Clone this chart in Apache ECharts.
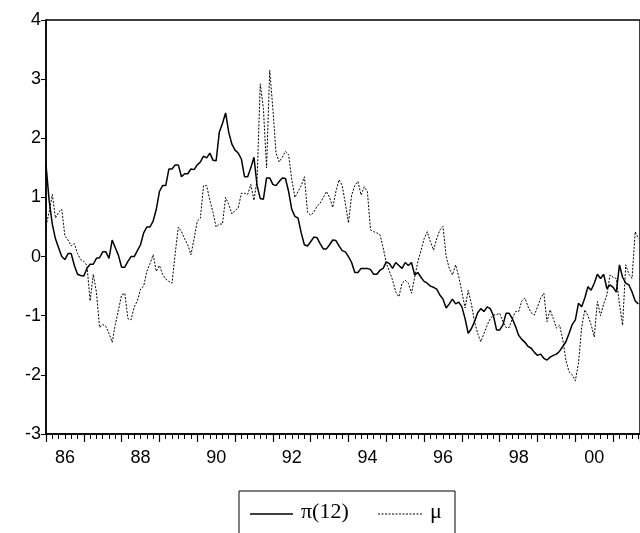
<!DOCTYPE html>
<html><head><meta charset="utf-8">
<script src="https://cdn.jsdelivr.net/npm/echarts@6/dist/echarts.min.js"></script>
<style>html,body{margin:0;padding:0;background:#fff}#c{width:640px;height:533px}</style>
</head><body><div id="c"></div>
<script>
const startYear = 1986;
const yTicks = [-3,-2,-1,0,1,2,3,4];
const xLabelYears = [1986,1988,1990,1992,1994,1996,1998,2000];
const pi12 = [
1.55,0.95,0.55,0.3,0.15,0.0,-0.05,0.05,0.05,-0.15,-0.3,-0.32,
-0.33,-0.2,-0.13,-0.13,-0.03,-0.02,0.08,0.08,-0.03,0.28,0.15,0.02,
-0.18,-0.18,-0.08,0.0,0.0,0.1,0.2,0.4,0.5,0.5,0.6,0.8,
1.1,1.2,1.2,1.48,1.48,1.55,1.55,1.35,1.4,1.4,1.48,1.47,
1.55,1.6,1.7,1.67,1.75,1.63,1.62,2.1,2.25,2.43,2.1,1.9,
1.8,1.75,1.65,1.35,1.35,1.5,1.68,1.2,0.98,0.97,1.33,1.33,
1.22,1.2,1.27,1.33,1.32,1.1,0.8,0.68,0.65,0.4,0.2,0.18,
0.25,0.33,0.32,0.22,0.13,0.13,0.2,0.28,0.27,0.18,0.1,0.08,
0.0,-0.1,-0.27,-0.27,-0.2,-0.2,-0.2,-0.22,-0.3,-0.3,-0.23,-0.2,
-0.09,-0.12,-0.2,-0.1,-0.15,-0.2,-0.1,-0.15,-0.1,-0.31,-0.27,-0.35,
-0.42,-0.45,-0.5,-0.52,-0.55,-0.65,-0.72,-0.87,-0.8,-0.72,-0.8,-0.77,
-0.85,-1.05,-1.3,-1.22,-1.1,-0.95,-0.88,-0.93,-0.85,-0.88,-1.0,-1.24,
-1.24,-1.16,-0.96,-0.96,-1.05,-1.18,-1.33,-1.4,-1.45,-1.52,-1.55,-1.62,
-1.67,-1.65,-1.72,-1.75,-1.7,-1.67,-1.65,-1.6,-1.52,-1.44,-1.3,-1.15,
-1.07,-0.79,-0.85,-0.7,-0.51,-0.57,-0.45,-0.3,-0.37,-0.3,-0.54,-0.48,
-0.52,-0.6,-0.14,-0.35,-0.45,-0.48,-0.6,-0.75,-0.8
];
const mu = [
0.52,0.75,1.05,0.65,0.75,0.8,0.35,0.28,0.18,0.22,0.05,-0.05,
-0.08,-0.15,-0.75,-0.3,-0.6,-1.2,-1.15,-1.18,-1.3,-1.45,-1.15,-0.9,
-0.65,-0.62,-1.05,-1.07,-0.85,-0.75,-0.55,-0.5,-0.25,-0.12,0.03,-0.25,
-0.15,-0.3,-0.38,-0.42,-0.45,0.05,0.5,0.42,0.3,0.2,0.03,0.3,
0.6,0.65,1.2,1.2,0.95,0.75,0.5,0.55,0.55,1.0,0.88,0.72,
0.78,0.82,1.07,1.07,1.05,1.22,0.95,1.3,2.92,2.5,1.5,3.15,
2.5,1.75,1.6,1.68,1.78,1.72,1.3,1.0,1.1,1.2,1.35,0.75,
0.7,0.75,0.85,0.9,1.0,1.1,1.0,0.83,1.1,1.3,1.2,0.9,
0.57,1.04,1.2,1.27,1.04,1.18,1.1,0.45,0.42,0.4,0.37,0.15,
-0.11,-0.25,-0.4,-0.6,-0.68,-0.45,-0.4,-0.45,-0.62,-0.35,-0.09,0.1,
0.3,0.42,0.25,0.11,0.3,0.45,0.51,0.0,-0.2,-0.31,-0.14,-0.34,
-0.6,-0.87,-0.57,-0.8,-1.1,-1.3,-1.44,-1.3,-1.16,-1.05,-0.99,-0.98,
-0.96,-1.1,-1.2,-1.2,-1.05,-0.93,-0.93,-0.75,-0.7,-0.85,-0.95,-0.99,
-0.85,-0.7,-0.62,-1.1,-0.9,-1.05,-1.21,-1.16,-1.4,-1.75,-1.95,-2.0,
-2.1,-1.8,-1.2,-0.9,-1.0,-1.15,-1.36,-0.76,-1.0,-0.8,-0.65,-0.31,
-0.35,-0.37,-0.8,-1.16,-0.14,-0.3,-0.37,0.42,0.3
];
const toPts = arr => arr.map((v,i)=>[startYear + i/12, v]);
const chart = echarts.init(document.getElementById('c'));
const font = 'Liberation Sans, Arial, sans-serif';
chart.setOption({
  animation:false,
  grid:{left:46,top:20,right:-2,bottom:99,show:true,borderColor:'#000',borderWidth:1.5},
  xAxis:{type:'value',min:startYear,max:2001.71,interval:1,
    axisLine:{show:true,onZero:false,lineStyle:{color:'#000',width:1.5}},
    axisTick:{show:true,length:8,lineStyle:{color:'#000',width:1.2}},
    minorTick:{show:true,splitNumber:6,length:5,lineStyle:{color:'#000',width:1}},
    splitLine:{show:false},
    axisLabel:{color:'#000',fontSize:18,fontFamily:font,margin:15,padding:[0,0,0,38],
      showMaxLabel:false,
      formatter:v=>xLabelYears.includes(Math.round(v))&&Math.abs(v-Math.round(v))<1e-6?String(Math.round(v)).slice(2):''}},
  yAxis:{type:'value',min:yTicks[0],max:yTicks[yTicks.length-1],interval:1,
    axisLine:{show:true,lineStyle:{color:'#000',width:1.5}},
    axisTick:{show:true,length:5,lineStyle:{color:'#000'}},
    splitLine:{show:false},
    axisLabel:{color:'#000',fontSize:18,fontFamily:font,margin:5}},
  series:[
    {name:'π(12)',type:'line',data:toPts(pi12),showSymbol:false,lineStyle:{color:'#000',width:1.5}},
    {name:'μ',type:'line',data:toPts(mu),showSymbol:false,lineStyle:{color:'#000',width:1,type:[2,1.5]}}
  ],
  graphic:[
    {type:'rect',shape:{x:239,y:491,width:216,height:50},style:{fill:'#fff',stroke:'#000',lineWidth:1}},
    {type:'line',shape:{x1:250,y1:514,x2:293,y2:514},style:{stroke:'#000',lineWidth:1.5}},
    {type:'text',x:301,y:501,style:{text:'π(12)',fontFamily:'Liberation Serif, serif',fontSize:22,fill:'#000'}},
    {type:'line',shape:{x1:378,y1:514,x2:422,y2:514},style:{stroke:'#000',lineWidth:1,lineDash:[2,1.5]}},
    {type:'text',x:430,y:501,style:{text:'μ',fontFamily:'Liberation Serif, serif',fontSize:22,fill:'#000'}}
  ]
});
</script></body></html>
